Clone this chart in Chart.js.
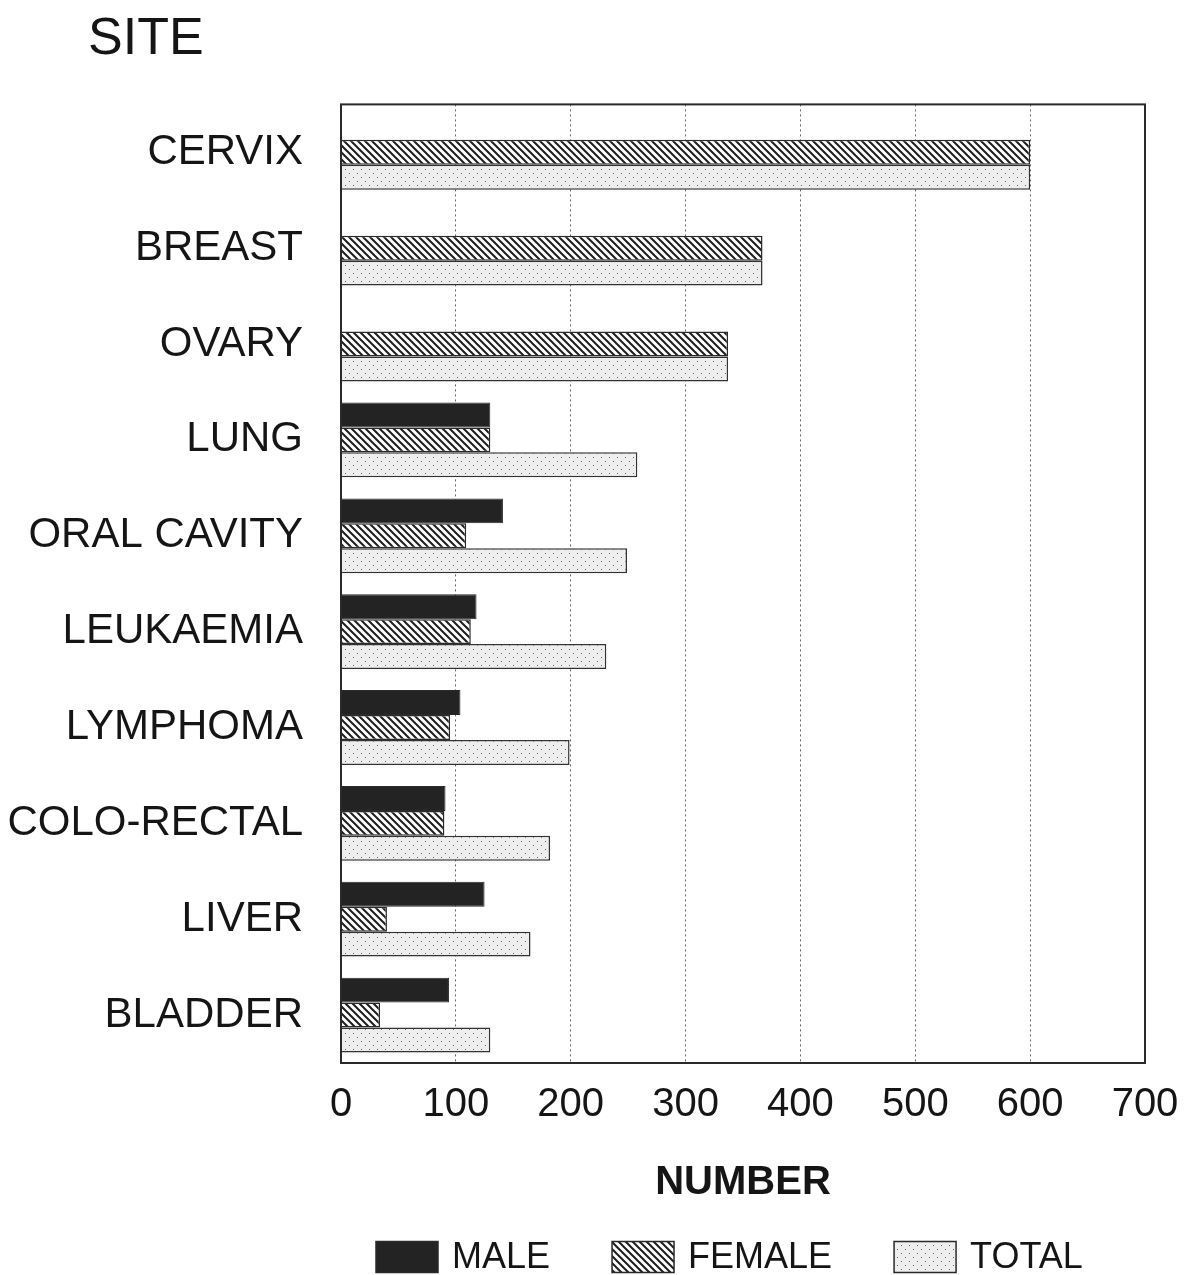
<!DOCTYPE html>
<html>
<head>
<meta charset="utf-8">
<script src="https://cdn.jsdelivr.net/npm/chart.js@4.4.1/dist/chart.umd.min.js"></script>
<style>
  body { margin: 0; background: #fff; }
  #wrap { width: 1189px; height: 1275px; }
</style>
</head>
<body>
<div id="wrap"><canvas id="siteChart" width="1189" height="1275"></canvas></div>
<script>
// cases by site
var sites = ["CERVIX", "BREAST", "OVARY", "LUNG", "ORAL CAVITY", "LEUKAEMIA", "LYMPHOMA", "COLO-RECTAL", "LIVER", "BLADDER"];
var male = [0, 0, 0, 130, 141, 118, 104, 91, 125, 94];
var female = [600, 367, 337, 130, 109, 113, 95, 90, 40, 34];
var total = [600, 367, 337, 258, 249, 231, 199, 182, 165, 130];
var xTicks = [0, 100, 200, 300, 400, 500, 600, 700];

var FONT = '"Liberation Sans", Arial, sans-serif';
var INK = "#151515";

function hatch() {
    var c = document.createElement("canvas");
    c.width = 7; c.height = 7;
    var g = c.getContext("2d");
    g.fillStyle = "#fff";
    g.fillRect(0, 0, 7, 7);
    g.strokeStyle = "#1e1e1e";
    g.lineWidth = 2;
    g.beginPath();
    g.moveTo(-1, -1); g.lineTo(8, 8);
    g.moveTo(-8, -1); g.lineTo(1, 8);
    g.moveTo(6, -1); g.lineTo(15, 8);
    g.stroke();
    return g.createPattern(c, "repeat");
}

function dots() {
    var c = document.createElement("canvas");
    c.width = 8; c.height = 8;
    var g = c.getContext("2d");
    g.fillStyle = "#eeeeee";
    g.fillRect(0, 0, 8, 8);
    g.fillStyle = "#6a6a6a";
    g.fillRect(1, 1, 1, 1);
    g.fillRect(5, 5, 1, 1);
    return g.createPattern(c, "repeat");
}

// full box round the plot
var frame = {
    id: "frame",
    afterDatasetsDraw: function (chart) {
        var a = chart.chartArea, ctx = chart.ctx;
        ctx.save();
        ctx.strokeStyle = "#2a2a2a";
        ctx.lineWidth = 2;
        ctx.strokeRect(a.left, a.top, a.right - a.left, a.bottom - a.top);
        ctx.restore();
    }
};

// move the "SITE" heading over the labels
var titleShift = {
    id: "titleShift",
    afterLayout: function (chart) {
        if (chart.titleBlock) chart.titleBlock.left = 88;
    }
};

// legend row under the axis title
var legendRow = {
    id: "legendRow",
    afterDraw: function (chart) {
        var ctx = chart.ctx, a = chart.chartArea;
        var sw = 62, sh = 31, gap = 14, space = 62;
        var x = a.left + 35, y = chart.height - 18;
        ctx.save();
        ctx.font = "36px " + FONT;
        ctx.textBaseline = "middle";
        chart.data.datasets.forEach(function (ds) {
            ctx.fillStyle = ds.backgroundColor;
            ctx.fillRect(x, y - sh / 2, sw, sh);
            ctx.strokeStyle = "#2a2a2a";
            ctx.lineWidth = 1.5;
            ctx.strokeRect(x, y - sh / 2, sw, sh);
            ctx.fillStyle = INK;
            ctx.fillText(ds.label, x + sw + gap, y + 1);
            x += sw + gap + ctx.measureText(ds.label).width + space;
        });
        ctx.restore();
    }
};

var ctx = document.getElementById("siteChart").getContext("2d");
new Chart(ctx, {
    type: "bar",
    data: {
        labels: sites,
        datasets: [
            { label: "MALE", data: male, backgroundColor: "#232323", borderColor: "#2a2a2a", borderWidth: 1 },
            { label: "FEMALE", data: female, backgroundColor: hatch(), borderColor: "#2a2a2a", borderWidth: 1.5 },
            { label: "TOTAL", data: total, backgroundColor: dots(), borderColor: "#333", borderWidth: 1.5 }
        ]
    },
    options: {
        indexAxis: "y",
        responsive: false,
        devicePixelRatio: 1,
        animation: false,
        categoryPercentage: 0.78,
        barPercentage: 1.0,
        layout: { padding: { left: 8, right: 0, top: 0, bottom: 68 } },
        scales: {
            x: {
                min: 0,
                max: 700,
                afterBuildTicks: function (axis) {
                    axis.ticks = xTicks.map(function (v) { return { value: v }; });
                },
                afterFit: function (axis) {
                    axis.paddingLeft = 0;
                    axis.paddingRight = 44;
                },
                grid: { color: "#666", lineWidth: 1, drawTicks: false },
                border: { display: false, dash: [2, 3] },
                ticks: { color: INK, font: { family: FONT, size: 40 }, padding: 18, maxRotation: 0 },
                title: {
                    display: true,
                    text: "NUMBER",
                    color: INK,
                    font: { family: FONT, size: 40, weight: "bold" },
                    padding: { top: 12, bottom: 0 }
                }
            },
            y: {
                afterFit: function (axis) { axis.width = 333; },
                grid: { display: false, drawTicks: false },
                border: { display: false },
                ticks: { color: INK, font: { family: FONT, size: 42 }, padding: 38 }
            }
        },
        plugins: {
            legend: { display: false },
            tooltip: { enabled: false },
            title: {
                display: true,
                text: "SITE",
                align: "start",
                color: INK,
                font: { family: FONT, size: 52, weight: "normal" },
                padding: { top: 8, bottom: 34 }
            }
        }
    },
    plugins: [frame, titleShift, legendRow]
});
</script>
</body>
</html>
